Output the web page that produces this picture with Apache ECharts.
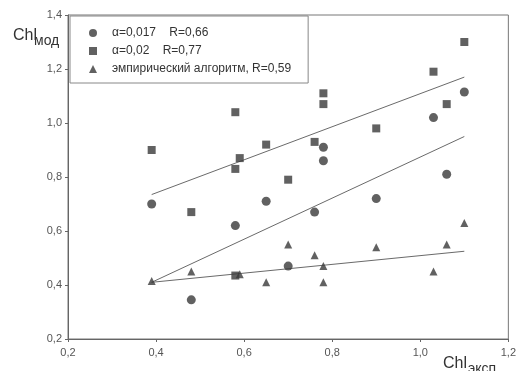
<!DOCTYPE html>
<html>
<head>
<meta charset="utf-8">
<script src="https://cdn.jsdelivr.net/npm/echarts@6/dist/echarts.min.js"></script>
<style>html,body{margin:0;padding:0;background:#fff;}#c{width:519px;height:371px;}</style>
</head>
<body>
<div id="c"></div>
<script>
// ---- data ----
var seriesNames = ['α=0,017    R=0,66', 'α=0,02    R=0,77', 'эмпирический алгоритм, R=0,59'];
var circlePts = [[0.39,0.70],[0.48,0.345],[0.58,0.62],[0.65,0.71],[0.70,0.47],[0.76,0.67],[0.78,0.91],[0.78,0.86],[0.90,0.72],[1.03,1.02],[1.06,0.81],[1.10,1.115]];
var squarePts = [[0.39,0.90],[0.48,0.67],[0.58,1.04],[0.58,0.83],[0.59,0.87],[0.58,0.435],[0.65,0.92],[0.70,0.79],[0.76,0.93],[0.78,1.07],[0.78,1.11],[0.90,0.98],[1.03,1.19],[1.06,1.07],[1.10,1.30]];
var trianglePts = [[0.39,0.415],[0.48,0.45],[0.59,0.44],[0.65,0.41],[0.70,0.55],[0.76,0.51],[0.78,0.47],[0.78,0.41],[0.90,0.54],[1.03,0.45],[1.06,0.55],[1.10,0.63]];
var trendSquares = [[0.39,0.735],[1.10,1.17]];
var trendCircles = [[0.39,0.41],[1.10,0.95]];
var trendTriangles = [[0.39,0.41],[1.10,0.525]];
var xTicks = {min:0.2, max:1.2, step:0.2};
var yTicks = {min:0.2, max:1.4, step:0.2};

var chart = echarts.init(document.getElementById('c'), null, {renderer:'canvas'});
var fmt = function(v){ return v.toFixed(1).replace('.', ','); };
var mk = '#3a3a3a';
var lineStyle = {color:'#6a6a6a', width:1};
function trend(d){
  return {type:'line', data:d, symbol:'none', lineStyle:lineStyle, silent:true, z:1, animation:false};
}
var icons = ['circle', 'rect', 'triangle'];
chart.setOption({
  animation:false,
  backgroundColor:'#fff',
  grid:{left:68, right:6, top:15, bottom:32, show:true, borderColor:'#777', borderWidth:1},
  xAxis:{type:'value', min:xTicks.min, max:xTicks.max, interval:xTicks.step,
    axisLine:{lineStyle:{color:'#666'}}, axisTick:{show:true, length:3, lineStyle:{color:'#666'}},
    splitLine:{show:false},
    axisLabel:{formatter:fmt, color:'#555', fontSize:11, fontFamily:'Liberation Sans', margin:8}},
  yAxis:{type:'value', min:yTicks.min, max:yTicks.max, interval:yTicks.step,
    axisLine:{show:true, lineStyle:{color:'#666'}}, axisTick:{show:true, length:3, lineStyle:{color:'#666'}},
    splitLine:{show:false},
    axisLabel:{formatter:fmt, color:'#555', fontSize:11, fontFamily:'Liberation Sans', margin:6}},
  legend:{left:70, top:16, orient:'vertical', itemWidth:8, itemHeight:8, itemGap:6,
    padding:[11,17,8,19], backgroundColor:'#fff', borderColor:'#888', borderWidth:1,
    textStyle:{color:'#333', fontSize:12, fontFamily:'Liberation Sans', padding:[0,0,0,10]},
    data:seriesNames.map(function(n,i){ return {name:n, icon:icons[i]}; })},
  series:[
    {name:seriesNames[0], type:'scatter', symbol:'circle', symbolSize:9, data:circlePts, itemStyle:{color:mk}, z:3},
    {name:seriesNames[1], type:'scatter', symbol:'rect', symbolSize:8, data:squarePts, itemStyle:{color:mk}, z:3},
    {name:seriesNames[2], type:'scatter', symbol:'triangle', symbolSize:8, data:trianglePts, itemStyle:{color:mk}, z:3},
    trend(trendSquares), trend(trendCircles), trend(trendTriangles)
  ],
  graphic:[
    {type:'text', left:13, top:28, style:{text:'Chl', fontSize:16, fontFamily:'Liberation Sans', fill:'#333'}},
    {type:'text', left:34, top:34, style:{text:'мод', fontSize:14, fontFamily:'Liberation Sans', fill:'#333'}},
    {type:'text', left:443, top:356, style:{text:'Chl', fontSize:16, fontFamily:'Liberation Sans', fill:'#333'}},
    {type:'text', left:468, top:362, style:{text:'эксп', fontSize:14, fontFamily:'Liberation Sans', fill:'#333'}}
  ]
});
</script>
</body>
</html>
